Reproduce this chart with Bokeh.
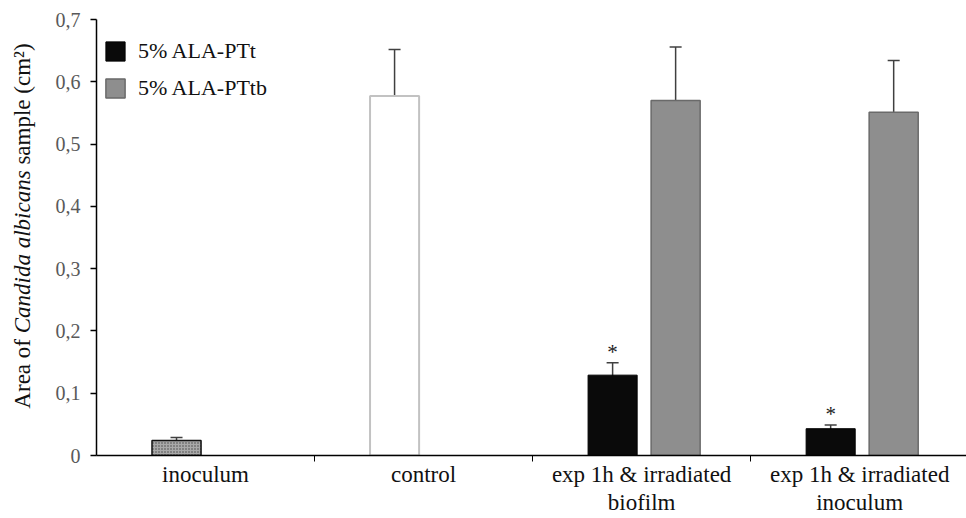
from bokeh.plotting import figure
from bokeh.models import (Range1d, FixedTicker, Whisker, TeeHead, ColumnDataSource,
                          Legend, Div)
from bokeh.layouts import row
from bokeh.core.properties import value
from bokeh.embed import file_html
from bokeh.resources import INLINE

# ---------------- data ----------------
categories = ["inoculum", "control", "exp 1h & irradiated\nbiofilm", "exp 1h & irradiated\ninoculum"]

# single reference bars (inoculum, control)
single_idx = [0, 1]
single_vals = [0.024, 0.577]
single_err = [0.005, 0.075]

# treatment series (only the last two categories)
treat_idx = [2, 3]
ptt_vals = [0.129, 0.043]
ptt_err = [0.020, 0.006]
pttb_vals = [0.570, 0.551]
pttb_err = [0.086, 0.083]
signif = ["*", "*"]

series_names = ["5% ALA-PTt", "5% ALA-PTtb"]
y_ticks = [0, 0.1, 0.2, 0.3, 0.4, 0.5, 0.6, 0.7]
y_tick_labels = ["0", "0,1", "0,2", "0,3", "0,4", "0,5", "0,6", "0,7"]
y_title_html = "Area of <i>Candida albicans</i> sample (cm²)"

# ---------------- layout constants ----------------
FONT = "Liberation Serif"
BAR_W = 0.225
OFF_L = -0.133
OFF_R = 0.156
X_END = 3.99
Y_END = 0.7
DIV_W = 40

centers = [i + 0.5 for i in range(len(categories))]

p = figure(width=966 - DIV_W, height=518, output_backend="svg", toolbar_location=None,
           x_range=Range1d(0, X_END), y_range=Range1d(0, Y_END),
           min_border_left=96 - DIV_W, min_border_top=19, min_border_bottom=61,
           min_border_right=0)
p.outline_line_color = None
p.xgrid.grid_line_color = None
p.ygrid.grid_line_color = None
p.background_fill_color = "white"

# single bars
x_inoc = [centers[single_idx[0]] + OFF_L]
x_ctrl = [centers[single_idx[1]] + OFF_L]
p.vbar(x=x_inoc, top=[single_vals[0]], width=BAR_W, bottom=0,
       fill_color="#a9a9a9", line_color="#111111", line_width=1.5,
       hatch_pattern="dot", hatch_color="#444444", hatch_scale=3, hatch_weight=1)
p.vbar(x=x_ctrl, top=[single_vals[1]], width=BAR_W, bottom=0,
       fill_color="white", line_color="#c2c2c2", line_width=2)

src_single = ColumnDataSource(dict(
    x=[centers[i] + OFF_L for i in single_idx],
    up=[v + e for v, e in zip(single_vals, single_err)],
    lo=[v - e for v, e in zip(single_vals, single_err)]))

# treatment series
x_ptt = [centers[i] + OFF_L for i in treat_idx]
x_pttb = [centers[i] + OFF_R for i in treat_idx]
r1 = p.vbar(x=x_ptt, top=ptt_vals, width=BAR_W, bottom=0,
            fill_color="#0a0a0a", line_color="#000000", line_width=1)
r2 = p.vbar(x=x_pttb, top=pttb_vals, width=BAR_W, bottom=0,
            fill_color="#8e8e8e", line_color="#6a6a6a", line_width=1.5)

src_ptt = ColumnDataSource(dict(
    x=x_ptt,
    up=[v + e for v, e in zip(ptt_vals, ptt_err)],
    lo=[v - e for v, e in zip(ptt_vals, ptt_err)],
    s=signif))
src_pttb = ColumnDataSource(dict(
    x=x_pttb,
    up=[v + e for v, e in zip(pttb_vals, pttb_err)],
    lo=[v - e for v, e in zip(pttb_vals, pttb_err)]))

for src in (src_single, src_ptt, src_pttb):
    w = Whisker(source=src, base="x", upper="up", lower="lo", dimension="height",
                line_color="#404040", line_width=1.5,
                upper_head=TeeHead(size=12, line_color="#404040", line_width=1.5),
                lower_head=TeeHead(size=12, line_color="#404040", line_width=1.5))
    p.add_layout(w)

p.text(x="x", y="up", text="s", source=src_ptt, y_offset=-11,
       text_font=value(FONT), text_font_size="21px", text_color="#222222",
       text_align="center", text_baseline="alphabetic")

# legend
legend = Legend(items=[(series_names[0], [r1]), (series_names[1], [r2])],
                location=(7, 354), orientation="vertical",
                border_line_color=None, background_fill_alpha=0,
                glyph_width=24, glyph_height=24, label_height=24,
                label_standoff=11, spacing=11, padding=0, margin=0,
                label_text_font=FONT, label_text_font_size="22px",
                label_text_color="#111111")
p.add_layout(legend, "center")

# x axis
xa = p.xaxis[0]
xa.ticker = FixedTicker(ticks=centers, minor_ticks=[1, 2, 3])
xa.major_label_overrides = {c: lab for c, lab in zip(centers, categories)}
xa.major_tick_line_color = None
xa.major_tick_out = 0
xa.major_tick_in = 0
xa.minor_tick_line_color = "black"
xa.minor_tick_out = 6
xa.minor_tick_in = 0
xa.axis_line_color = "black"
xa.axis_line_width = 1.5
xa.major_label_text_font = FONT
xa.major_label_text_font_size = "23px"
xa.major_label_text_color = "#111111"
xa.major_label_text_line_height = 1.15
xa.major_label_standoff = 0

# y axis
ya = p.yaxis[0]
ya.ticker = FixedTicker(ticks=y_ticks, minor_ticks=[])
ya.major_label_overrides = {t: lab for t, lab in zip(y_ticks, y_tick_labels)}
ya.major_tick_out = 6
ya.major_tick_in = 0
ya.major_tick_line_color = "black"
ya.major_tick_line_width = 1.5
ya.minor_tick_line_color = None
ya.axis_line_color = "black"
ya.axis_line_width = 1.5
ya.major_label_text_font = FONT
ya.major_label_text_font_size = "20px"
ya.major_label_text_color = "#595959"
ya.major_label_standoff = 10

# y axis title (mixed upright / italic) as rotated HTML text beside the plot
BOX_W = 420
CX, CY = 23, 226
title_div = Div(
    text=(f'<div style="width:{BOX_W}px;height:30px;line-height:30px;text-align:center;'
          f'white-space:nowrap;margin-left:{CX - BOX_W // 2}px;margin-top:{CY - 15}px;'
          f'transform:rotate(-90deg);font-family:\'{FONT}\';font-size:23px;color:#111111;">'
          f'{y_title_html}</div>'),
    width=DIV_W, height=518, margin=0)

layout = row(title_div, p, spacing=0)
open("out.html", "w").write(file_html(layout, INLINE))
